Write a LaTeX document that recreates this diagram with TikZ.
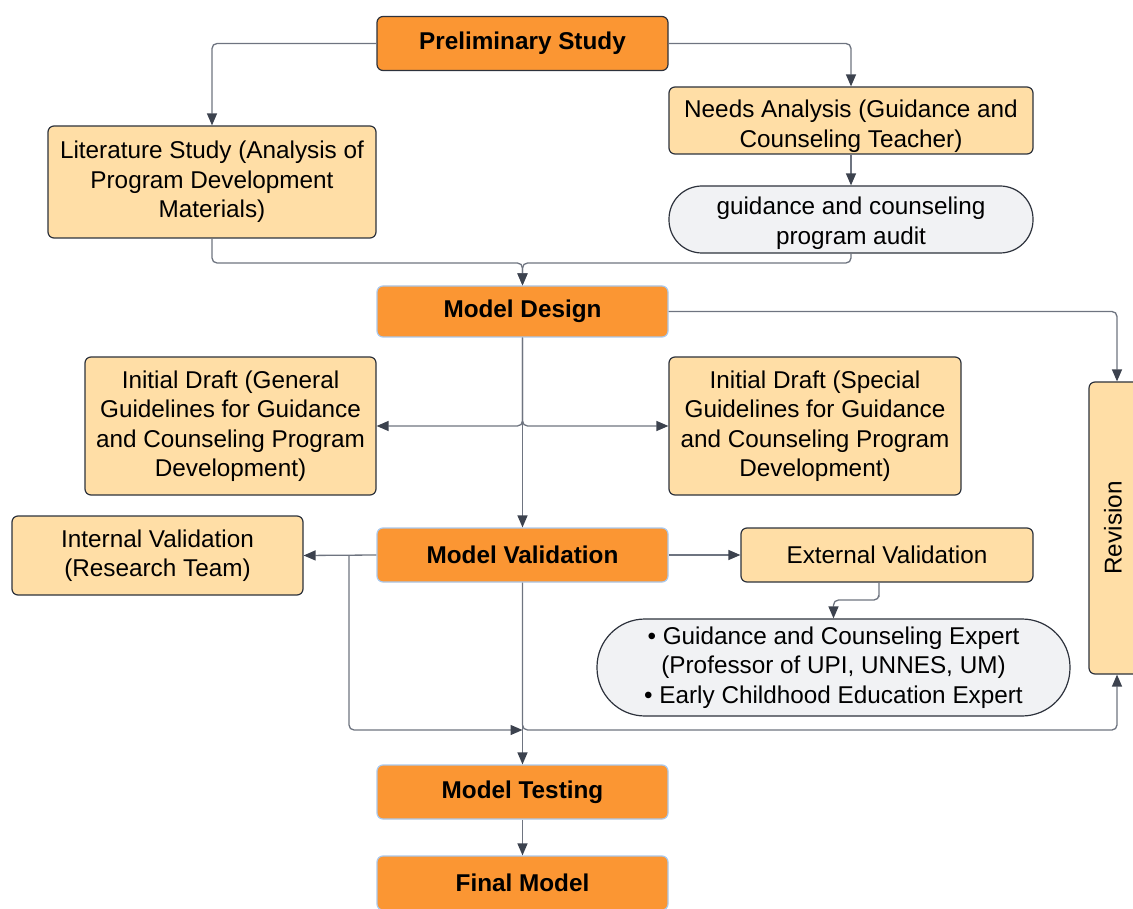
\documentclass[tikz,border=0pt]{standalone}
\usepackage{fontspec}
\setmainfont{Liberation Sans}
\usetikzlibrary{arrows.meta,calc}
\definecolor{orng}{RGB}{251,150,51}
\definecolor{lite}{RGB}{255,222,166}
\definecolor{pillg}{RGB}{241,242,244}
\definecolor{bord}{RGB}{45,50,60}
\definecolor{blueb}{RGB}{170,200,235}
\definecolor{linec}{RGB}{110,116,128}
\definecolor{tipc}{RGB}{60,66,78}
\newcommand{\lowtwo}[3]{\raisebox{#1}[\height][\depth]{\begin{tabular}{@{}c@{}}#2\\#3\end{tabular}}}
\tikzset{
  every node/.style={font=\fontsize{24.3}{29.5}\selectfont, align=center, inner sep=0pt},
  mainbox/.style={draw=blueb, line width=1.2pt, fill=orng, rounded corners=6pt, minimum width=291, minimum height=54, font=\fontsize{24.3}{29.5}\selectfont\bfseries},
  topbox/.style={mainbox, draw=bord},
  subbox/.style={draw=bord, line width=1.2pt, fill=lite, rounded corners=6pt},
  pillbox/.style={draw=bord, line width=1.2pt, fill=pillg},
  conn/.style={draw=linec, line width=1.3pt, rounded corners=5pt},
  arr/.style={conn, -{Triangle[length=12pt,width=10pt,fill=tipc,color=tipc]}},
}
\begin{document}
\begin{tikzpicture}[x=1pt,y=-1pt]
\useasboundingbox (0,0) rectangle (1133,909);
\clip (0,0) rectangle (1133,909);
% nodes
\node[topbox] (ps) at (522.5,43.5) {Preliminary Study};
\node[subbox, minimum width=328, minimum height=112] (lit) at (212,182) {Literature Study (Analysis of\\Program Development\\Materials)};
\node[subbox, minimum width=364, minimum height=67] (na) at (851,120.5) {\lowtwo{-6pt}{Needs Analysis (Guidance and}{Counseling Teacher)}};
\node[pillbox, rounded corners=33pt, minimum width=364, minimum height=67] (au) at (851,219.5) {\lowtwo{-4pt}{guidance and counseling}{program audit}};
\node[mainbox, minimum height=51] (md) at (522.5,311.5) {Model Design};
\node[subbox, minimum width=291, minimum height=138] (gd) at (230.5,426) {Initial Draft (General\\Guidelines for Guidance\\and Counseling Program\\Development)};
\node[subbox, minimum width=292, minimum height=138] (sd) at (815,426) {Initial Draft (Special\\Guidelines for Guidance\\and Counseling Program\\Development)};
\node[subbox, minimum width=58, minimum height=292] (rev) at (1118,528) {};
\node[rotate=90] (revt) at (1113,528) {Revision};
\node[subbox, minimum width=291, minimum height=79] (iv) at (157.5,555.5) {Internal Validation\\(Research Team)};
\node[mainbox] (mv) at (522.5,555) {Model Validation};
\node[subbox, minimum width=292, minimum height=54] (ev) at (887,555) {External Validation};
\node[pillbox, rounded corners=48pt, minimum width=473, minimum height=97] (ex) at (833.5,667.5) {\textbullet\ Guidance and Counseling Expert\\(Professor of UPI, UNNES, UM)\\\textbullet\ Early Childhood Education Expert};
\node[mainbox] (mt) at (522.5,792) {Model Testing};
\node[mainbox] (fm) at (522.5,883) {Final Model};
% coordinates
\coordinate (j1) at (522.5,263);
\coordinate (b1) at (349,555);
\coordinate (j3) at (522.5,730);
\coordinate (r1) at (1117,730);
\coordinate (e1) at (879,600);
% connectors
\draw[arr] (ps.west) -| (lit.north);
\draw[arr] (ps.east) -| (na.north);
\draw[arr] (na.south) -- (au.north);
\draw[arr] (lit.south) |- (j1) -- (md.north);
\draw[arr] (au.south) |- (j1) -- (md.north);
\draw[arr] (md.east) -| (rev.north -| r1);
\draw[arr] (md.south) |- (gd.east);
\draw[arr] (md.south) |- (sd.west);
\draw[arr] (md.south) -- (mv.north);
\draw[arr] (mv.west) -- (iv.east);
\draw[arr] (b1) |- (j3);
\draw[arr] (mv.east) -- (ev.west);
\draw[arr] (ev.south -| e1) |- (e1) -| (ex.north);
\draw[arr] (mv.south) -- (mt.north);
\draw[arr] (mv.south) |- (r1) -- (rev.south -| r1);
\draw[arr] (mt.south) -- (fm.north);
\end{tikzpicture}
\end{document}
